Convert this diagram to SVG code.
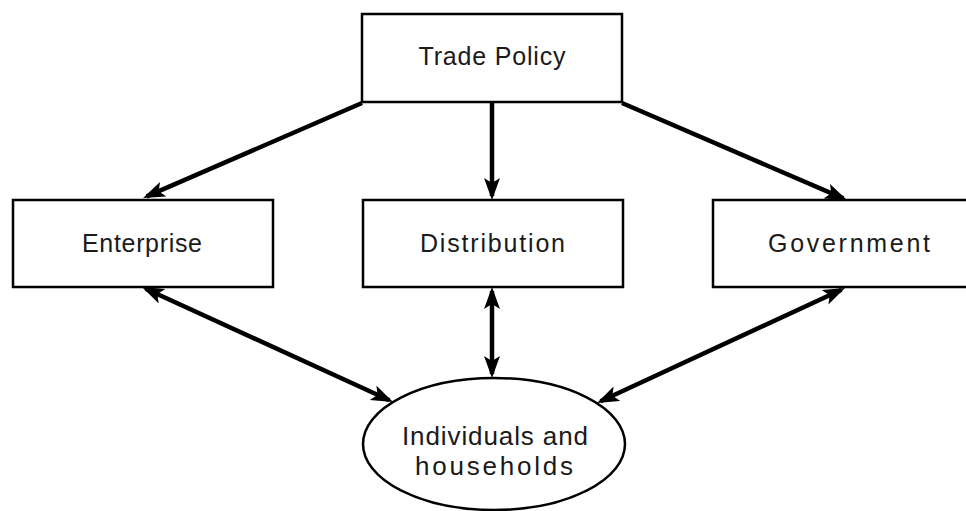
<svg xmlns="http://www.w3.org/2000/svg" width="966" height="511" viewBox="0 0 966 511">
<style>
.box{fill:#fff;stroke:#000;stroke-width:2.5}
.lbl{font-family:"Liberation Sans",Arial,sans-serif;font-size:25px;fill:#1a1a1a;text-anchor:middle}
.conn{stroke:#000;stroke-width:4.5;fill:none}
</style>
<defs>
<marker id="ah" markerUnits="userSpaceOnUse" markerWidth="24" markerHeight="18" refX="18" refY="8" orient="auto-start-reverse" viewBox="0 0 24 18">
<path d="M0,0 L22,8 L0,16 L5,8 Z" fill="#000"/>
</marker>
</defs>
<rect width="966" height="511" fill="#fff"/>
<g id="connectors">
<line class="conn" x1="362" y1="103" x2="146.7" y2="196.4" marker-end="url(#ah)"/>
<line class="conn" x1="492" y1="103" x2="492" y2="196" marker-end="url(#ah)"/>
<line class="conn" x1="622" y1="103" x2="843.3" y2="198.4" marker-end="url(#ah)"/>
<line class="conn" x1="145.6" y1="288.7" x2="389.4" y2="400.3" marker-start="url(#ah)" marker-end="url(#ah)"/>
<line class="conn" x1="492" y1="291" x2="492" y2="374" marker-start="url(#ah)" marker-end="url(#ah)"/>
<line class="conn" x1="841.4" y1="289.7" x2="600.6" y2="401.3" marker-start="url(#ah)" marker-end="url(#ah)"/>
</g>
<g id="trade-policy">
<rect class="box" x="362" y="14" width="260" height="88"/>
<text class="lbl" x="492" y="65" textLength="147" lengthAdjust="spacing">Trade Policy</text>
</g>
<g id="enterprise">
<rect class="box" x="13" y="200" width="260" height="87"/>
<text class="lbl" x="142" y="252" textLength="120" lengthAdjust="spacing">Enterprise</text>
</g>
<g id="distribution">
<rect class="box" x="363" y="200" width="260" height="87"/>
<text class="lbl" x="492.5" y="252" textLength="145" lengthAdjust="spacing">Distribution</text>
</g>
<g id="government">
<rect class="box" x="713" y="200" width="262" height="87"/>
<text class="lbl" x="849" y="252" textLength="162" lengthAdjust="spacing">Government</text>
</g>
<g id="individuals">
<ellipse class="box" cx="494" cy="444" rx="131" ry="66"/>
<text class="lbl" style="font-size:26px" x="495" y="445" textLength="186" lengthAdjust="spacing">Individuals and</text>
<text class="lbl" style="font-size:26px" x="494" y="475" textLength="158" lengthAdjust="spacing">households</text>
</g>
</svg>
